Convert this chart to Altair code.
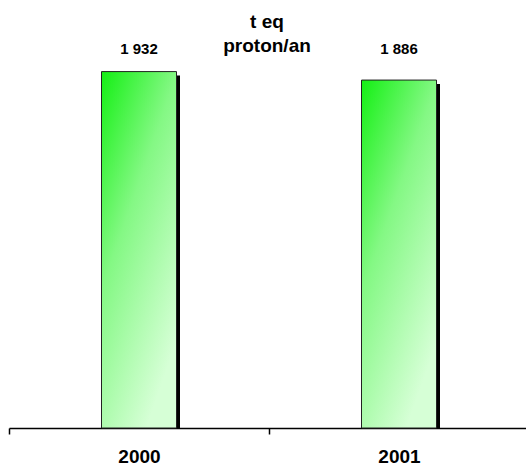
import altair as alt
import pandas as pd

# Data
years = ["2000", "2001"]
values = [1932, 1886]
value_labels = ["1 932", "1 886"]
title_lines = ["t eq", "proton/an"]

df = pd.DataFrame({"annee": years, "valeur": values, "etiquette": value_labels})

FONT = "Liberation Sans"

x_enc = alt.X(
    "annee:N",
    scale=alt.Scale(range=[0, 520], paddingInner=0, paddingOuter=0),
    axis=alt.Axis(
        title=None,
        labelAngle=0,
        domainColor="black",
        domainWidth=1.5,
        tickColor="black",
        tickWidth=1.5,
        tickSize=6,
        tickBand="extent",
        labelFont=FONT,
        labelFontSize=19,
        labelFontWeight="bold",
        labelColor="black",
        labelBaseline="alphabetic",
        labelPadding=28,
        labelFlush=False,
        labelOverlap=False,
        grid=False,
    ),
)
y_enc = alt.Y("valeur:Q", scale=alt.Scale(domain=[0, 2320], nice=False, zero=True), axis=None)

base = alt.Chart(df).encode(x=x_enc, y=y_enc)

# drop shadow behind each bar, clipped at the baseline
shadow = base.mark_bar(color="black", width=75, xOffset=3.5, yOffset=4, clip=True)

green = alt.Gradient(
    gradient="linear",
    x1=0, y1=0, x2=0.6, y2=1,
    stops=[
        alt.GradientStop(offset=0, color="#14f014"),
        alt.GradientStop(offset=0.45, color="#84f884"),
        alt.GradientStop(offset=1, color="#d6ffd6"),
    ],
)
bars = base.mark_bar(width=75, fill=green, stroke="#222222", strokeWidth=1)

labels = alt.Chart(df).mark_text(
    font=FONT, fontSize=15, fontWeight="bold", color="black", baseline="alphabetic"
).encode(x=alt.X("annee:N"), y=alt.value(54), text="etiquette:N")

title_top = alt.Chart(pd.DataFrame({"t": [title_lines[0]]})).mark_text(
    font=FONT, fontSize=19, fontWeight="bold", color="black", baseline="alphabetic"
).encode(x=alt.value(258), y=alt.value(28), text="t:N")

title_bottom = alt.Chart(pd.DataFrame({"t": [title_lines[1]]})).mark_text(
    font=FONT, fontSize=19, fontWeight="bold", color="black", baseline="alphabetic"
).encode(x=alt.value(258), y=alt.value(52), text="t:N")

chart = (
    alt.layer(shadow, bars, labels, title_top, title_bottom)
    .properties(
        width=517,
        height=428,
        padding={"left": 9, "top": 0, "right": 0, "bottom": 40},
        autosize=alt.AutoSizeParams(type="none"),
        background="white",
    )
    .configure_view(strokeWidth=0)
)

chart.save("out.html", embed_options={"renderer": "svg", "actions": False})
